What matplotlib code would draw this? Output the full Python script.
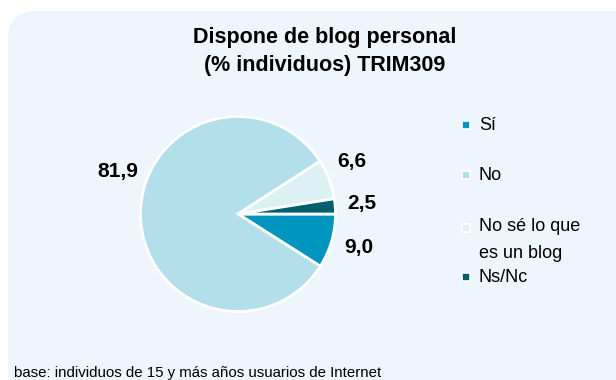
import matplotlib.pyplot as plt
from matplotlib.patches import FancyBboxPatch, Rectangle

plt.rcParams['font.family'] = ['Liberation Sans', 'DejaVu Sans']

# Datos
categorias = ['Sí', 'No', 'No sé lo que\nes un blog', 'Ns/Nc']
valores = [9.0, 81.9, 6.6, 2.5]
colores = ['#0095BF', '#B2DFE9', '#DDF0F4', '#005F6D']
etiquetas = [f'{v:.1f}'.replace('.', ',') for v in valores]

W, H = 616, 380
fig = plt.figure(figsize=(W / 100, H / 100), dpi=100)
fig.patch.set_facecolor('white')

# fondo con esquinas redondeadas
fondo = FancyBboxPatch((8 / W, -0.2), 1.2, (H - 11) / H + 0.2,
                       boxstyle='round,pad=0,rounding_size=0.045',
                       transform=fig.transFigure, facecolor='#EEF5FD',
                       edgecolor='none', zorder=-5, mutation_aspect=W / H)
fig.patches.append(fondo)

fig.text(325 / W, 1 - 37 / H, 'Dispone de blog personal', ha='center', va='center',
         fontsize=15.5, fontweight='bold')
fig.text(325 / W, 1 - 66 / H, '(% individuos) TRIM309', ha='center', va='center',
         fontsize=15.5, fontweight='bold')

# tarta
cx, cy = 238, 214
ax = fig.add_axes([(cx - 100) / W, (H - cy - 100) / H, 200 / W, 200 / H], zorder=2)
ax.patch.set_visible(False)
wedges, _ = ax.pie(valores, colors=colores, startangle=0, counterclock=False,
                   radius=0.975, wedgeprops=dict(edgecolor='white', linewidth=2))
ax.set_xlim(-1, 1)
ax.set_ylim(-1, 1)
ax.axis('off')

pos_etiquetas = [(1.21, -0.34), (-1.20, 0.43), (1.14, 0.52), (1.24, 0.10)]
for txt, (x, y) in zip(etiquetas, pos_etiquetas):
    ax.text(x, y, txt, ha='center', va='center', fontsize=15, fontweight='bold')

# leyenda
ley_y = [125, 175, 240, 277]
for cat, col, y in zip(categorias, colores, ley_y):
    my = 228 if '\n' in cat else y
    fig.patches.append(Rectangle(((466 - 4) / W, 1 - (my + 4) / H), 8 / W, 8 / H,
                                 transform=fig.transFigure, facecolor=col,
                                 edgecolor='white', linewidth=1.2))
    fig.text(479 / W, 1 - y / H, cat, ha='left', va='center', fontsize=13,
             linespacing=1.75)

fig.text(14 / W, 1 - 373 / H, 'base: individuos de 15 y más años usuarios de Internet',
         ha='left', va='center', fontsize=10.8)

fig.savefig('out.png', dpi=100, facecolor='white')
